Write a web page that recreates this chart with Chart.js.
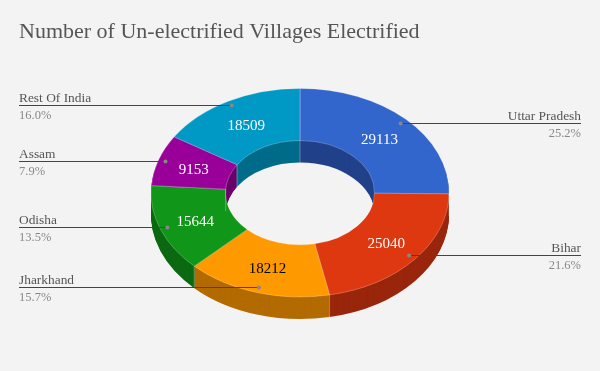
<!DOCTYPE html>
<html lang="en">
<head>
  <meta charset="UTF-8" />
  <title>Number of Un-electrified Villages Electrified</title>
  <script src="https://cdn.jsdelivr.net/npm/chart.js"></script>
  <style>
    html, body { margin: 0; padding: 0; background: #f3f3f3; }
    canvas { display: block; }
  </style>
</head>
<body>
  <canvas id="villageChart" width="600" height="371"></canvas>

  <script>
    const states = ["Uttar Pradesh", "Bihar", "Jharkhand", "Odisha", "Assam", "Rest Of India"];
    const villages = [29113, 25040, 18212, 15644, 9153, 18509];
    const shares = ["25.2%", "21.6%", "15.7%", "13.5%", "7.9%", "16.0%"];
    const topColors = ["#3366cc", "#de3810", "#ff9900", "#109618", "#990099", "#0099c6"];
    const wallColors = ["#21418a", "#99260c", "#b36b00", "#0b6911", "#6b006b", "#006b8a"];
    const valueColors = ["#fff", "#fff", "#000", "#fff", "#fff", "#fff"];

    const squash = 0.7;     // flatten the circle to an ellipse
    const depth = 22;       // height of the ring wall in px
    const serif = '"Liberation Serif", serif';

    const ring3d = {
      id: "ring3d",
      beforeDatasetsDraw(chart) {
        const ctx = chart.ctx;
        const arcs = chart.getDatasetMeta(0).data;
        const cx = arcs[0].x, cy = arcs[0].y;

        ctx.save();
        ctx.translate(cx, cy);
        ctx.scale(1, squash);
        ctx.translate(-cx, -cy);

        // wall: stack dark copies of the arcs, lowest first
        for (let d = depth; d >= 1; d--) {
          ctx.save();
          ctx.translate(0, d / squash);
          arcs.forEach((arc, i) => {
            const saved = arc.options;
            arc.options = { ...saved, backgroundColor: wallColors[i], borderWidth: 0 };
            arc.draw(ctx);
            arc.options = saved;
          });
          ctx.restore();
        }
      },
      afterDatasetsDraw(chart) {
        const ctx = chart.ctx;
        ctx.restore();

        // light seams on the wall where two slices meet
        const arcs = chart.getDatasetMeta(0).data;
        ctx.save();
        ctx.strokeStyle = "rgba(255,255,255,0.3)";
        ctx.lineWidth = 1;
        arcs.forEach(arc => {
          const sin = Math.sin(arc.startAngle), cos = Math.cos(arc.startAngle);
          const r = sin > 0 ? arc.outerRadius : arc.innerRadius;
          const x = arc.x + cos * r, y = arc.y + sin * r * squash;
          ctx.beginPath();
          ctx.moveTo(x, y);
          ctx.lineTo(x, y + depth);
          ctx.stroke();
        });
        ctx.restore();
      },
      afterDraw(chart) {
        const ctx = chart.ctx;
        const arcs = chart.getDatasetMeta(0).data;
        ctx.save();
        arcs.forEach((arc, i) => {
          const mid = (arc.startAngle + arc.endAngle) / 2;
          const cos = Math.cos(mid), sin = Math.sin(mid);

          // value in the middle of the slice
          const rv = (arc.outerRadius + arc.innerRadius) / 2;
          ctx.font = "15px " + serif;
          ctx.fillStyle = valueColors[i];
          ctx.textAlign = "center";
          ctx.textBaseline = "middle";
          ctx.fillText(villages[i], arc.x + cos * rv, arc.y + sin * rv * squash + 2);

          // leader line with name and share
          const rd = arc.outerRadius * 0.95;
          const dotX = arc.x + cos * rd;
          const dotY = Math.floor(arc.y + sin * rd * squash) + 0.5;
          const right = cos > 0;
          const endX = right ? 581 : 19;
          ctx.strokeStyle = "#444";
          ctx.lineWidth = 1;
          ctx.beginPath();
          ctx.moveTo(dotX, dotY);
          ctx.lineTo(endX, dotY);
          ctx.stroke();
          ctx.fillStyle = "#888";
          ctx.beginPath();
          ctx.arc(dotX, dotY, 2, 0, Math.PI * 2);
          ctx.fill();

          ctx.textAlign = right ? "right" : "left";
          ctx.textBaseline = "alphabetic";
          ctx.font = "13.4px " + serif;
          ctx.fillStyle = "#555";
          ctx.fillText(states[i], endX, dotY - 4);
          ctx.font = "12.5px " + serif;
          ctx.fillStyle = "#888";
          ctx.fillText(shares[i], endX, dotY + 13);
        });
        ctx.restore();
      }
    };

    new Chart(document.getElementById("villageChart"), {
      type: "doughnut",
      data: {
        labels: states,
        datasets: [{
          data: villages,
          backgroundColor: topColors,
          borderColor: "rgba(255,255,255,0.3)",
          borderWidth: 1
        }]
      },
      options: {
        responsive: false,
        animation: false,
        radius: 149,
        cutout: "50%",
        layout: { padding: { left: 19, right: 19, top: 0, bottom: 50 } },
        plugins: {
          legend: { display: false },
          tooltip: { enabled: false },
          title: {
            display: true,
            text: "Number of Un-electrified Villages Electrified",
            align: "start",
            color: "#555",
            font: { family: serif, size: 22, weight: "normal" },
            padding: { top: 19, bottom: 19 }
          }
        }
      },
      plugins: [ring3d]
    });
  </script>
</body>
</html>
